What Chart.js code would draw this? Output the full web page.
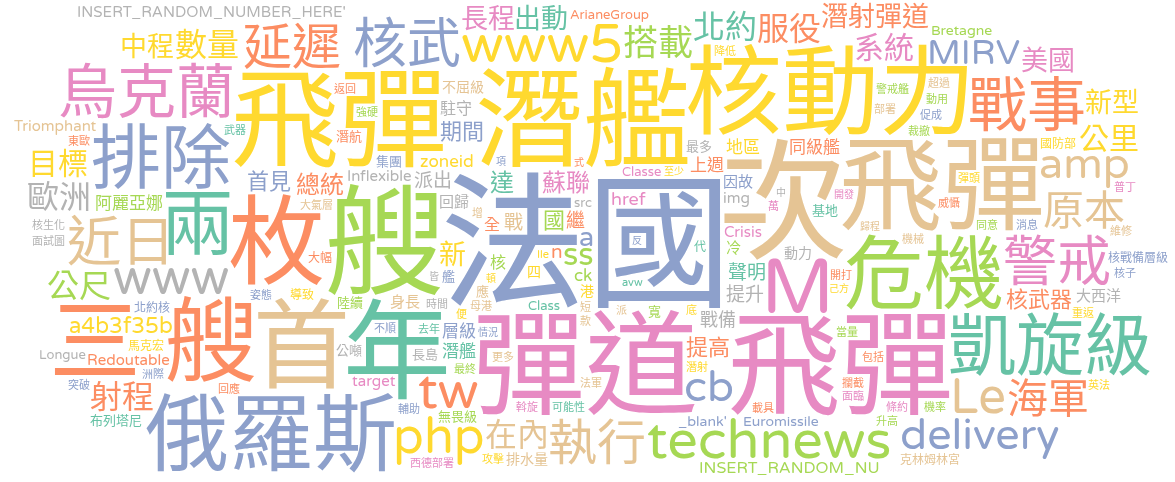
<!DOCTYPE html>
<html>
<head>
<meta charset="utf-8">
<title>文字雲</title>
<script src="https://cdn.jsdelivr.net/npm/chart.js@4.4.1/dist/chart.umd.min.js"></script>
<style>
  html, body { margin: 0; padding: 0; background: #fff; }
  #wrap { width: 1175px; height: 482px; position: relative; }
</style>
</head>
<body>
<div id="wrap"><canvas id="cloud"></canvas></div>
<script>
// 詞彙與出現次數（從圖上估計）
const WORDS = [
  "法國", "次", "彈道 飛彈", "艘", "飛彈 潛艦", "年", "飛彈", "核動力", "枚", "首",
  "三 艘", "俄羅斯", "危機", "M", "兩", "排除", "凱旋級", "烏克蘭", "戰事", "警戒",
  "近日", "核武", "technews", "www5", "tw", "www", "Le", "延遲", "執行", "php",
  "delivery", "amp", "cb", "原本", "海軍", "搭載", "MIRV", "在內", "射程", "公尺",
  "數量", "ss", "北約", "服役", "歐洲", "系統", "公里", "目標", "美國", "新",
  "中程", "長程", "潛射彈道", "出動", "新型", "a", "蘇聯", "達", "總統", "提高",
  "國", "核武器", "期間", "a4b3f35b", "首見", "繼", "戰", "聲明", "提升", "派出",
  "n", "戰備", "href", "上週", "同級艦", "層級", "ck", "zoneid", "阿麗亞娜", "地區",
  "潛艦", "核", "駐守", "全", "INSERT_RANDOM_NU", "INSERT_RANDOM_NUMBER_HERE'", "Crisis", "回歸", "身長", "img",
  "Redoutable", "target", "大西洋", "因故", "Triomphant", "Inflexible", "冷", "四", "_blank'", "不屈級",
  "排水量", "Euromissile", "Bretagne", "港", "動力", "Class", "應", "艦", "無畏級", "Classe",
  "ArianeGroup", "最多", "Longue", "基地", "src", "集團", "布列塔尼", "長島", "寬", "潛航",
  "公噸", "陸續", "北約核", "大幅", "導致", "馬克宏", "核戰備層級", "國防部", "克林姆林宮", "代",
  "母港", "開打", "更多", "增", "潛射", "最終", "機械", "包括", "威懾", "時間",
  "短", "裁撤", "部署", "攔截", "派", "西德部署", "可能性", "促成", "警戒艦", "Ile",
  "同意", "大氣層", "去年", "斡旋", "動用", "不順", "底", "輔助", "條約", "消息",
  "萬", "avw", "超過", "面試圖", "當量", "姿態", "機率", "升高", "東歐", "強硬",
  "攻擊", "核生化", "法軍", "武器", "彈頭", "返回", "面臨", "款", "載具", "普丁",
  "回應", "維修", "降低", "核子", "英法", "突破", "便", "洲際", "重返", "情況",
  "開發", "頓", "反", "至少", "皆", "己方", "項", "式", "中", "歸程"
];
const COUNTS = [
  135, 120, 105, 110, 100, 100, 95, 90, 90, 90,
  85, 78, 74, 70, 68, 65, 63, 55, 55, 50,
  50, 50, 50, 50, 48, 45, 45, 45, 45, 45,
  40, 40, 40, 38, 38, 32, 32, 30, 30, 30,
  30, 30, 30, 30, 30, 28, 28, 28, 25, 25,
  25, 25, 25, 25, 25, 25, 22, 22, 22, 20,
  20, 20, 20, 20, 20, 18, 18, 18, 18, 18,
  18, 17, 17, 16, 16, 16, 16, 16, 16, 16,
  16, 15, 15, 15, 15, 14, 14, 14, 14, 14,
  14, 14, 14, 14, 14, 14, 14, 13, 13, 13,
  13, 13, 13, 13, 13, 12, 12, 12, 12, 12,
  12, 12, 12, 12, 12, 12, 12, 12, 12, 12,
  12, 12, 11, 11, 11, 11, 11, 11, 11, 11,
  10, 10, 10, 10, 10, 10, 10, 10, 10, 10,
  10, 10, 10, 10, 10, 10, 10, 10, 10, 10,
  10, 10, 10, 10, 10, 10, 10, 10, 10, 10,
  10, 10, 10, 10, 10, 10, 10, 10, 10, 10,
  10, 10, 10, 10, 10, 10, 10, 10, 10, 10,
  10, 10, 10, 10, 10, 10, 10, 10, 10, 9,
  9, 9, 9, 9, 9, 9, 9, 9, 9, 9
];

// 配色（Set2）：T 綠松 O 橘 B 藍 P 粉 G 綠 Y 黃 N 棕 R 灰
const PALETTE = {
  T: "#66c2a5", O: "#fc8d62", B: "#8da0cb", P: "#e78ac3",
  G: "#a6d854", Y: "#ffd92f", N: "#e5c494", R: "#b3b3b3",
};
const WORD_COLORS = (
  "BNPGYTNYON" + "OBGPTBTPOP" + "NBGYORNONY" + "BNBNOGBNOG" +
  "YGTORPYYPY" + "YPOTYBPTOO" + "GOBYBONTRR" + "ORPOOBGYGY" +
  "TGROGRPRNR" + "OPRBNRGYBN" + "NBGYRTNBGP" + "ORRTRBTRGO" +
  "RGBOYYBYNT" + "NONNYGNOOR" + "NGNONPTBGY" + "GNTPGBYBPB" +
  "PTNRGBGGOG" + "YRNTYOPNOP" + "ONYBYBYBYB" + "PYBYRYBORN"
).split("");

const W = 1175, H = 482;
const CELL = 2;
const MARGIN = 2;
const SIZE_PER_COUNT = 1.08;
const MIN_FONT = 8;
// 英文用圓體，中文交給 Noto Sans CJK TC
const FONT = '"Varela Round", "Nunito", "Quicksand", "Noto Sans CJK TC", "Noto Sans", sans-serif';

/**
 * 由大到小把詞放進畫面（由中心往外找空位，接近矩形的螺旋）
 */
function layoutWords() {
  const GW = Math.ceil(W / CELL), GH = Math.ceil(H / CELL);
  const grid = new Uint8Array(GW * GH);
  const W1 = GW + 1;
  const integ = new Int32Array(W1 * (GH + 1));

  function rebuild() {
    for (let y = 0; y < GH; y++) {
      let row = 0;
      for (let x = 0; x < GW; x++) {
        row += grid[y * GW + x];
        integ[(y + 1) * W1 + x + 1] = integ[y * W1 + x + 1] + row;
      }
    }
  }
  function boxSum(x0, y0, w, h) {
    return integ[(y0 + h) * W1 + x0 + w] - integ[y0 * W1 + x0 + w]
         - integ[(y0 + h) * W1 + x0] + integ[y0 * W1 + x0];
  }

  // 候選位置：以超橢圓距離排序，角落也能填滿
  const cx = GW / 2, cy = GH / 2, ratio = GW / GH;
  const cand = [];
  for (let y = 0; y < GH; y++) {
    for (let x = 0; x < GW; x++) {
      const dx = Math.abs(x - cx) / ratio, dy = Math.abs(y - cy);
      const r = Math.pow(dx ** 4 + dy ** 4, 0.25);
      const a = (Math.atan2(y - cy, x - cx) + Math.PI) / (2 * Math.PI);
      cand.push([Math.floor(r) + a, x, y]);
    }
  }
  cand.sort((p, q) => p[0] - q[0]);

  const mcv = document.createElement("canvas");
  const mctx = mcv.getContext("2d", { willReadFrequently: true });

  const order = WORDS.map((_, i) => i).sort((a, b) => COUNTS[b] - COUNTS[a]);
  const placed = [];

  for (const i of order) {
    let size = Math.round(COUNTS[i] * SIZE_PER_COUNT);
    while (size >= MIN_FONT) {
      mctx.font = `${size}px ${FONT}`;
      const m = mctx.measureText(WORDS[i]);
      const left = m.actualBoundingBoxLeft, right = m.actualBoundingBoxRight;
      const asc = m.actualBoundingBoxAscent, desc = m.actualBoundingBoxDescent;
      const inkW = left + right, inkH = asc + desc;
      const bw = Math.ceil((inkW + 2 * MARGIN) / CELL);
      const bh = Math.ceil((inkH + 2 * MARGIN) / CELL);

      let fx = -1, fy = -1;
      if (bw <= GW && bh <= GH) {
        for (let k = 0; k < cand.length; k++) {
          const x0 = cand[k][1] - (bw >> 1), y0 = cand[k][2] - (bh >> 1);
          if (x0 < 0 || y0 < 0 || x0 + bw > GW || y0 + bh > GH) continue;
          if (boxSum(x0, y0, bw, bh) === 0) { fx = x0; fy = y0; break; }
        }
      }
      if (fx < 0) { size -= 2; continue; }

      const ox = fx * CELL + MARGIN + left;
      const oy = fy * CELL + MARGIN + asc;

      // 實際筆畫標記為已佔用
      const cw = Math.ceil(inkW) + 4, ch = Math.ceil(inkH) + 4;
      mcv.width = cw; mcv.height = ch;
      mctx.font = `${size}px ${FONT}`;
      mctx.fillStyle = "#000";
      mctx.fillText(WORDS[i], left + 2, asc + 2);
      const px = mctx.getImageData(0, 0, cw, ch).data;
      const bx = ox - left - 2, by = oy - asc - 2;
      for (let y = 0; y < ch; y++) {
        for (let x = 0; x < cw; x++) {
          if (px[(y * cw + x) * 4 + 3] > 0) {
            const gx = Math.floor((bx + x) / CELL), gy = Math.floor((by + y) / CELL);
            if (gx >= 0 && gy >= 0 && gx < GW && gy < GH) grid[gy * GW + gx] = 1;
          }
        }
      }
      rebuild();
      placed.push({ x: ox, y: oy, word: WORDS[i], size, color: PALETTE[WORD_COLORS[i]] });
      break;
    }
  }
  return placed;
}

const placed = layoutWords();

// 點的位置上畫文字
const wordTextPlugin = {
  id: "wordText",
  afterDatasetsDraw(chart) {
    const ctx = chart.ctx;
    const meta = chart.getDatasetMeta(0);
    const s = chart.chartArea.width / W;
    ctx.save();
    ctx.textAlign = "left";
    ctx.textBaseline = "alphabetic";
    meta.data.forEach((el, k) => {
      const p = placed[k];
      ctx.font = `${p.size * s}px ${FONT}`;
      ctx.fillStyle = p.color;
      ctx.fillText(p.word, el.x, el.y);
    });
    ctx.restore();
  },
};

new Chart(document.getElementById("cloud"), {
  type: "scatter",
  data: {
    datasets: [{
      data: placed.map((p) => ({ x: p.x, y: p.y })),
      pointRadius: 0,
      pointHoverRadius: 0,
    }],
  },
  options: {
    responsive: true,
    maintainAspectRatio: false,
    animation: false,
    events: [],
    layout: { padding: 0 },
    plugins: { legend: { display: false }, tooltip: { enabled: false } },
    scales: {
      x: { type: "linear", min: 0, max: W, display: false },
      y: { type: "linear", min: 0, max: H, reverse: true, display: false },
    },
  },
  plugins: [wordTextPlugin],
});
</script>
</body>
</html>
